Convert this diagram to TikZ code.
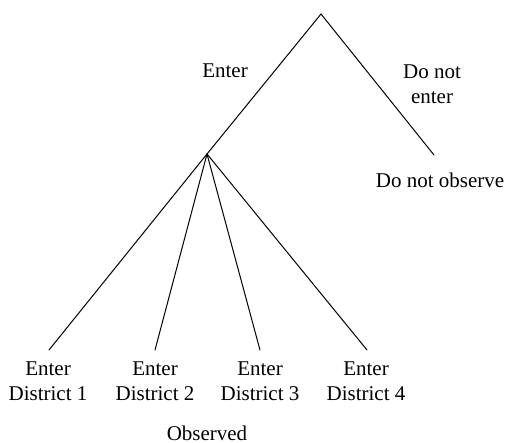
\documentclass[tikz,border=0pt]{standalone}
\usepackage{fontspec}
\setmainfont{Liberation Serif}

\begin{document}
\begin{tikzpicture}[x=0.5pt, y=-0.5pt]
    \tikzset{
        branch/.style={line width=0.5pt, line cap=round},
        label text/.style={font=\fontsize{10.5}{12.5}\selectfont, align=center, inner sep=1pt},
    }
    \useasboundingbox (0, 0) rectangle (508, 443);
    % decision points
    \coordinate (root) at (321, 14);
    \coordinate (enter) at (207, 154);
    \coordinate (skip) at (434, 155);
    \draw[branch] (root) -- (enter);
    \draw[branch] (root) -- (skip);
    \node[label text] (enter label) at (225, 71) {Enter};
    \node[label text] (skip label) at (432, 84) {Do not\\enter};
    \node[label text] (no obs) at (440, 180) {Do not observe};
    % the four districts
    \foreach \i/\x/\lx in {1/49/48, 2/155/155, 3/260/260, 4/367/366} {
        \coordinate (leaf\i) at (\x, 350);
        \node[label text] (district\i) at (\lx, 381) {Enter\\District \i};
        \draw[branch] (enter) -- (leaf\i);
    }
    \node[label text] (observed) at (207, 433) {Observed};
\end{tikzpicture}
\end{document}
